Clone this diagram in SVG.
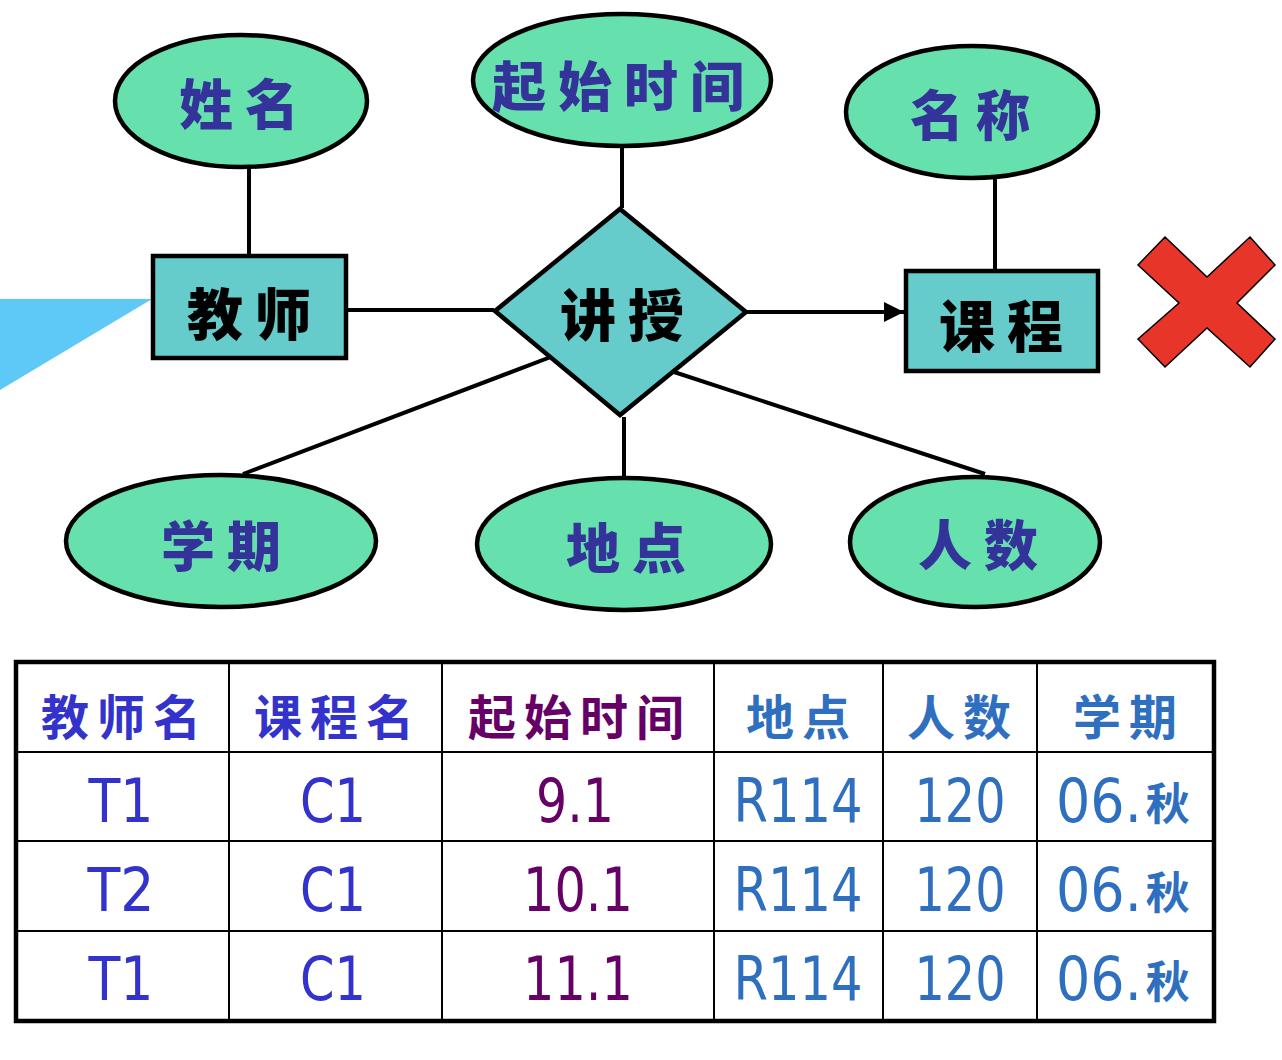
<svg xmlns="http://www.w3.org/2000/svg" width="1282" height="1060" viewBox="0 0 1282 1060">
  <defs>
    <marker id="arrow" viewBox="0 0 10 10" refX="10" refY="5" markerWidth="5" markerHeight="5" markerUnits="strokeWidth" orient="auto">
      <path d="M0,0 L10,5 L0,10 z" fill="#000"/>
    </marker>
    <style>
      .attr { fill: #66E0AC; stroke: #000; stroke-width: 4.5; }
      .ent { fill: #66CBCB; stroke: #000; stroke-width: 4.5; }
      .attr-t { font-family: "Noto Sans CJK SC", "Noto Sans CJK JP", sans-serif; font-weight: 900; font-size: 54px; fill: #333399; text-anchor: middle; dominant-baseline: central; letter-spacing: 12px; }
      .ent-t { font-family: "Noto Sans CJK SC", "Noto Sans CJK JP", sans-serif; font-weight: 900; font-size: 56px; fill: #000; text-anchor: middle; dominant-baseline: central; letter-spacing: 12px; }
      .link { stroke: #000; stroke-width: 4; fill: none; }
      .grid { stroke: #000; stroke-width: 2; fill: none; }
      .frame { stroke: #000; stroke-width: 4.5; fill: none; }
      .hd { font-family: "Noto Sans CJK SC", "Noto Sans CJK JP", sans-serif; font-weight: 700; font-size: 48px; text-anchor: middle; dominant-baseline: central; letter-spacing: 8px; }
      .cell { font-family: "DejaVu Sans", "Liberation Sans", sans-serif; font-size: 60px; text-anchor: middle; }
      .cell-l { font-family: "DejaVu Sans Condensed", "DejaVu Sans", sans-serif; font-stretch: condensed; font-size: 60px; text-anchor: start; }
      .small { font-family: "Noto Sans CJK SC", "Noto Sans CJK JP", sans-serif; font-stretch: normal; font-weight: 700; font-size: 44px; }
      .blue { fill: #3333CC; }
      .purple { fill: #660066; }
      .steel { fill: #2F6FC0; }
    </style>
  </defs>

  <!-- decorative callout wedge at left edge -->
  <polygon points="0,299 152,299 0,390" fill="#5EC8F7"/>

  <!-- connectors -->
  <g id="connectors">
    <line class="link" x1="249" y1="167" x2="249" y2="254"/>
    <line class="link" x1="622" y1="147" x2="622" y2="208"/>
    <line class="link" x1="995" y1="178" x2="995" y2="269"/>
    <line class="link" x1="348" y1="310" x2="494" y2="310"/>
    <line class="link" x1="747" y1="312" x2="904" y2="312" marker-end="url(#arrow)"/>
    <line class="link" x1="556" y1="355" x2="243" y2="474"/>
    <line class="link" x1="624" y1="417" x2="624" y2="477"/>
    <line class="link" x1="671" y1="371" x2="985" y2="474"/>
  </g>

  <!-- attributes -->
  <g id="attr-name">
    <ellipse class="attr" cx="241" cy="101" rx="126" ry="66"/>
    <text class="attr-t" x="245" y="101">姓名</text>
  </g>
  <g id="attr-start">
    <ellipse class="attr" cx="622" cy="80" rx="149" ry="66"/>
    <text class="attr-t" x="624" y="83">起始时间</text>
  </g>
  <g id="attr-title">
    <ellipse class="attr" cx="972" cy="112" rx="126" ry="66"/>
    <text class="attr-t" x="976" y="112">名称</text>
  </g>
  <g id="attr-term">
    <ellipse class="attr" cx="221" cy="541" rx="155" ry="66"/>
    <text class="attr-t" x="227" y="543">学期</text>
  </g>
  <g id="attr-place">
    <ellipse class="attr" cx="624" cy="544" rx="147" ry="66"/>
    <text class="attr-t" x="632" y="545">地点</text>
  </g>
  <g id="attr-count">
    <ellipse class="attr" cx="975" cy="542" rx="125" ry="65"/>
    <text class="attr-t" x="984" y="542">人数</text>
  </g>

  <!-- entities and relationship -->
  <g id="ent-teacher">
    <rect class="ent" x="153" y="256" width="193" height="102"/>
    <text class="ent-t" x="255" y="310">教师</text>
  </g>
  <g id="rel-teach">
    <polygon class="ent" points="620,209 746,312 620,415 495,311"/>
    <text class="ent-t" x="628" y="311">讲授</text>
  </g>
  <g id="ent-course">
    <rect class="ent" x="906" y="271" width="192" height="100"/>
    <text class="ent-t" x="1007" y="322">课程</text>
  </g>

  <!-- cross mark -->
  <polygon points="1138,265 1165,237 1207,277 1250,237 1275,265 1237,303 1275,339 1250,367 1207,328 1165,367 1138,339 1179,303" fill="#E8352A" stroke="#000" stroke-width="1.5"/>

  <!-- table -->
  <g id="table">
    <rect x="14" y="662" width="1200" height="359" fill="#fff"/>
    <line class="grid" x1="14" y1="752" x2="1214" y2="752"/>
    <line class="grid" x1="14" y1="841" x2="1214" y2="841"/>
    <line class="grid" x1="14" y1="931" x2="1214" y2="931"/>
    <line class="grid" x1="229" y1="662" x2="229" y2="1021"/>
    <line class="grid" x1="442" y1="662" x2="442" y2="1021"/>
    <line class="grid" x1="714" y1="662" x2="714" y2="1021"/>
    <line class="grid" x1="883" y1="662" x2="883" y2="1021"/>
    <line class="grid" x1="1037" y1="662" x2="1037" y2="1021"/>
    <rect class="frame" x="16" y="662" width="1198" height="359"/>

    <text class="hd blue" x="125" y="714">教师名</text>
    <text class="hd blue" x="338" y="714">课程名</text>
    <text class="hd purple" x="580" y="714">起始时间</text>
    <text class="hd steel" x="802" y="714">地点</text>
    <text class="hd steel" x="963" y="714">人数</text>
    <text class="hd steel" x="1129" y="714">学期</text>

    <text class="cell blue" x="121" y="822" textLength="65" lengthAdjust="spacingAndGlyphs">T1</text>
    <text class="cell blue" x="333" y="822" textLength="66" lengthAdjust="spacingAndGlyphs">C1</text>
    <text class="cell purple" x="575" y="822" textLength="78" lengthAdjust="spacingAndGlyphs">9.1</text>
    <text class="cell steel" x="798" y="822" textLength="129" lengthAdjust="spacingAndGlyphs">R114</text>
    <text class="cell steel" x="960" y="822" textLength="91" lengthAdjust="spacingAndGlyphs">120</text>
    <text class="cell-l steel" x="1056" y="822">06.<tspan class="small" dx="4" dy="-2">秋</tspan></text>

    <text class="cell blue" x="121" y="911" textLength="67" lengthAdjust="spacingAndGlyphs">T2</text>
    <text class="cell blue" x="333" y="911" textLength="66" lengthAdjust="spacingAndGlyphs">C1</text>
    <text class="cell purple" x="578" y="911" textLength="110" lengthAdjust="spacingAndGlyphs">10.1</text>
    <text class="cell steel" x="798" y="911" textLength="129" lengthAdjust="spacingAndGlyphs">R114</text>
    <text class="cell steel" x="960" y="911" textLength="91" lengthAdjust="spacingAndGlyphs">120</text>
    <text class="cell-l steel" x="1056" y="911">06.<tspan class="small" dx="4" dy="-2">秋</tspan></text>

    <text class="cell blue" x="121" y="1000" textLength="65" lengthAdjust="spacingAndGlyphs">T1</text>
    <text class="cell blue" x="333" y="1000" textLength="66" lengthAdjust="spacingAndGlyphs">C1</text>
    <text class="cell purple" x="578" y="1000" textLength="110" lengthAdjust="spacingAndGlyphs">11.1</text>
    <text class="cell steel" x="798" y="1000" textLength="129" lengthAdjust="spacingAndGlyphs">R114</text>
    <text class="cell steel" x="960" y="1000" textLength="91" lengthAdjust="spacingAndGlyphs">120</text>
    <text class="cell-l steel" x="1056" y="1000">06.<tspan class="small" dx="4" dy="-2">秋</tspan></text>
  </g>
</svg>
